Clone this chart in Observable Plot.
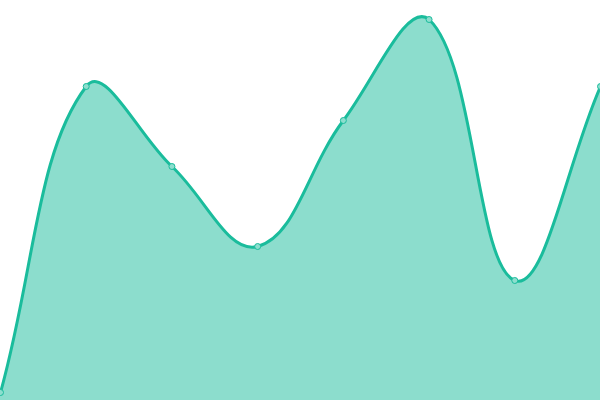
<!DOCTYPE html>
<html>
<head>
<meta charset="utf-8">
<script src="https://cdn.jsdelivr.net/npm/d3@7"></script>
<script src="https://cdn.jsdelivr.net/npm/@observablehq/plot@0.6"></script>
<style>
html,body{margin:0;padding:0;background:#fff;}
</style>
</head>
<body>
<div id="chart"></div>
<script>
const idx = [0, 1, 2, 3, 4, 5, 6, 7];
const values = [8, 314, 234, 154, 280, 381, 120, 314];
const data = idx.map((i) => ({x: i, y: values[i]}));

const W = 600, H = 400;

// Bezier spline with chord-weighted control points (tension 0.4), control points capped to plot area
function splineCurve(tension, xmin, xmax, ymin, ymax) {
  const cap = (v, lo, hi) => Math.max(Math.min(v, hi), lo);
  return function(context) {
    let pts = [], line;
    return {
      areaStart() { line = 0; },
      areaEnd() { line = NaN; },
      lineStart() { pts = []; },
      point(x, y) { pts.push([+x, +y]); },
      lineEnd() {
        const n = pts.length;
        if (n) {
          if (line) context.lineTo(pts[0][0], pts[0][1]);
          else context.moveTo(pts[0][0], pts[0][1]);
          const cp = pts.map((cur, i) => {
            const prev = pts[i > 0 ? i - 1 : 0];
            const next = pts[i < n - 1 ? i + 1 : n - 1];
            const d01 = Math.hypot(cur[0] - prev[0], cur[1] - prev[1]);
            const d12 = Math.hypot(next[0] - cur[0], next[1] - cur[1]);
            let s01 = d01 / (d01 + d12), s12 = d12 / (d01 + d12);
            if (isNaN(s01)) s01 = 0;
            if (isNaN(s12)) s12 = 0;
            const fa = tension * s01, fb = tension * s12;
            return {
              prev: [cap(cur[0] - fa * (next[0] - prev[0]), xmin, xmax), cap(cur[1] - fa * (next[1] - prev[1]), ymin, ymax)],
              next: [cap(cur[0] + fb * (next[0] - prev[0]), xmin, xmax), cap(cur[1] + fb * (next[1] - prev[1]), ymin, ymax)]
            };
          });
          for (let i = 1; i < n; i++) {
            context.bezierCurveTo(cp[i - 1].next[0], cp[i - 1].next[1], cp[i].prev[0], cp[i].prev[1], pts[i][0], pts[i][1]);
          }
        }
        if (line || (line !== 0 && n === 1)) context.closePath();
        line = 1 - line;
      }
    };
  };
}

const curve = splineCurve(0.4, 0, W, 0, H);

const chart = Plot.plot({
  width: W,
  height: H,
  margin: 0,
  x: {domain: [0, 7], range: [0, W], axis: null},
  y: {domain: [0, 400], range: [H, 0], axis: null},
  marks: [
    Plot.areaY(data, {x: "x", y: "y", curve, fill: "#1abc9c", fillOpacity: 0.5}),
    Plot.line(data, {x: "x", y: "y", curve, stroke: "#1abc9c", strokeWidth: 3}),
    Plot.dot(data, {x: "x", y: "y", r: 3, fill: "#8ddece", stroke: "#1abc9c", strokeWidth: 1})
  ]
});
document.getElementById("chart").appendChild(chart);
</script>
</body>
</html>
